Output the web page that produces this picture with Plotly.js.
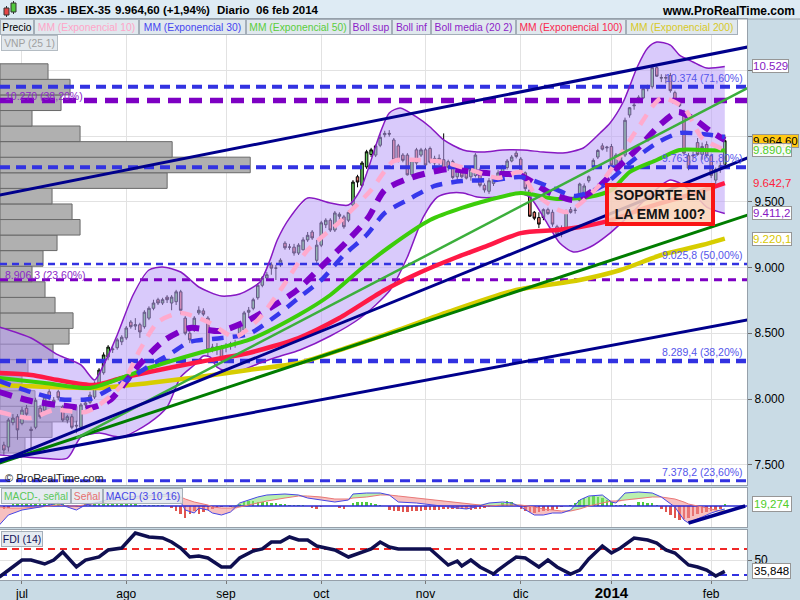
<!DOCTYPE html>
<html><head><meta charset="utf-8">
<script src="https://cdn.plot.ly/plotly-3.0.1.min.js"></script>
<style>html,body{margin:0;padding:0;background:#fff}#chart{width:800px;height:600px}</style>
</head><body><div id="chart"></div>
<script>
// ================= DATA =================
// bar index: 0 = 1 jul 2013 (trading days); first bar = -4 (25 jun 2013), last = 155 (6 feb 2014)
const firstBar = -4;
const months = ['jul','ago','sep','oct','nov','dic','2014','feb'];
const monthIdx = [0,23,45,66,89,110,130,152];
const priceTicks = [7500,8000,8500,9000,9500,10000,10500];
const priceTickText = ['7.500','8.000','8.500','9.000','9.500','',''];  // 10.000 / 10.500 are covered by value tags

const open = [7650,7635,7820,7865,7815,7930,7770,7785,7930,7915,
 8055,7975,8055,7940,7840,7865,7800,7785,7955,7975,
 8015,8105,8200,8320,8375,8390,8435,8465,8585,8555,
 8565,8550,8615,8690,8755,8730,8775,8730,8740,8815,
 8615,8500,8525,8655,8670,8615,8395,8395,8395,8395,
 8405,8425,8500,8525,8660,8690,8770,8865,8920,9020,
 8995,9020,9185,9155,9155,9110,9135,9210,9270,9055,
 9170,9325,9360,9285,9390,9385,9360,9475,9690,9625,
 9765,9860,9855,9930,10010,10020,9970,9925,9855,9855,
 9705,9895,9855,9895,9905,9795,9830,9820,9805,9805,
 9690,9740,9755,9690,9700,9740,9625,9580,9640,9690,
 9705,9760,9810,9870,9825,9720,9590,9420,9380,9380,
 9440,9420,9310,9255,9290,9440,9435,9510,9550,9660,
 9760,9840,9925,9910,9920,9780,9795,9855,10160,10230,
 10265,10290,10360,10375,10520,10440,10440,10460,10330,10275,
 10180,9850,9855,9950,9860,9935,9850,9665,9745,9785];
const high = [7675,7855,7885,7885,7940,7955,7790,8010,7955,8030,
 8075,8015,8070,7955,7880,7885,7835,7970,7990,8055,
 8135,8235,8355,8410,8410,8465,8485,8555,8600,8615,
 8580,8675,8705,8755,8770,8770,8790,8790,8830,8830,
 8630,8525,8630,8705,8690,8630,8420,8425,8410,8425,
 8435,8450,8565,8670,8700,8770,8880,8935,8965,9040,
 9020,9070,9200,9180,9180,9185,9230,9270,9285,9210,
 9355,9375,9375,9430,9420,9400,9435,9665,9705,9810,
 9895,9910,9935,10015,10040,10045,9985,9940,9870,9870,
 9830,9910,9910,9910,9920,9850,9860,10020,9820,9820,
 9760,9755,9770,9760,9870,9760,9640,9680,9700,9740,
 9780,9825,9855,9890,9840,9730,9600,9430,9420,9450,
 9455,9440,9325,9320,9440,9460,9455,9645,9640,9700,
 9830,9900,9945,9925,9940,9870,9850,10140,10220,10260,
 10310,10370,10390,10545,10545,10470,10470,10480,10345,10290,
 10200,9870,9880,9985,9950,9960,9865,9760,9800,10010];
const low = [7575,7600,7800,7690,7800,7860,7600,7770,7850,7900,
 7990,7960,7990,7825,7815,7770,7740,7770,7930,7960,
 8000,8090,8185,8295,8350,8375,8410,8450,8535,8525,
 8465,8535,8600,8675,8715,8715,8730,8675,8715,8645,
 8485,8425,8510,8640,8630,8320,8355,8335,8275,8355,
 8375,8390,8485,8510,8615,8675,8755,8850,8905,8945,
 8905,9005,9135,9135,9090,9095,9130,9195,9210,9035,
 9155,9300,9270,9270,9360,9295,9345,9460,9610,9610,
 9750,9840,9840,9915,9990,9995,9800,9800,9800,9700,
 9690,9780,9840,9770,9790,9760,9780,9730,9735,9670,
 9650,9680,9670,9660,9685,9610,9570,9560,9620,9670,
 9690,9745,9800,9830,9720,9580,9385,9360,9300,9360,
 9400,9310,9235,9230,9280,9410,9410,9495,9530,9645,
 9740,9825,9890,9880,9770,9760,9780,9840,10140,10200,
 10250,10280,10340,10360,10450,10410,10400,10330,10260,10220,
 9860,9740,9820,9850,9820,9840,9680,9630,9720,9770];
const close = [7612,7840,7855,7765,7915,7885,7760,7990,7865,8015,
 8010,7990,8010,7840,7865,7785,7795,7955,7970,8030,
 8120,8220,8335,8395,8380,8450,8470,8540,8550,8565,
 8510,8660,8690,8730,8730,8755,8755,8775,8815,8675,
 8500,8450,8615,8675,8645,8375,8390,8395,8295,8405,
 8420,8425,8550,8655,8675,8755,8865,8920,8945,8995,
 8995,9055,9150,9155,9110,9170,9210,9245,9225,9170,
 9340,9360,9285,9415,9405,9310,9420,9650,9650,9795,
 9880,9895,9925,9990,10020,10015,9820,9815,9815,9705,
 9815,9795,9895,9780,9800,9830,9810,9745,9760,9685,
 9740,9690,9680,9745,9855,9625,9590,9660,9690,9720,
 9770,9810,9840,9845,9740,9600,9390,9375,9330,9440,
 9410,9330,9255,9300,9425,9420,9435,9635,9620,9690,
 9815,9890,9900,9915,9780,9855,9840,10120,10215,10235,
 10295,10360,10375,10520,10455,10445,10445,10345,10275,10230,
 9870,9755,9850,9860,9920,9850,9700,9745,9775,9964.6];

// moving averages (sampled: bar index, value)
const ema10Idx = [-5,2,7,14,17,22,26,30,35,41,47,52,57,63,70,77,82,87,93,99,105,110,113,120,127,131,136,141,146,150,155];
const ema10Val = [7901,7856,7916,7901,7954,8106,8373,8586,8654,8586,8472,8601,8829,9133,9346,9589,9810,9818,9802,9742,9681,9726,9567,9422,9612,9802,10069,10289,10213,9985,9894];
const ema30Idx = [-5,2,8,15,19,24,28,33,37,44,50,56,61,66,71,76,80,85,91,97,104,110,116,122,128,134,140,145,150,155];
const ema30Val = [8137,8053,8000,8000,8068,8160,8251,8350,8434,8464,8494,8631,8768,8905,9095,9247,9414,9513,9620,9658,9665,9688,9620,9544,9620,9795,9947,10023,10015,9993];
const ema50Idx = [-5,5,15,22,28,39,50,61,68,75,81,90,97,103,110,118,125,130,134,140,145,150,155];
const ema50Val = [8160,8122,8084,8160,8236,8350,8449,8639,8791,8996,9156,9361,9453,9513,9567,9521,9536,9589,9726,9818,9894,9894,9890.6];
const ema100Idx = [-5,2,8,16,22,28,39,50,61,70,80,88,96,103,110,118,123,130,138,147,155];
const ema100Val = [8198,8183,8144,8106,8160,8205,8281,8350,8464,8616,8829,8966,9080,9171,9262,9285,9308,9361,9460,9551,9642.7];
const ema200Idx = [-5,6,17,28,39,50,61,72,83,94,109,123,132,141,150,155];
const ema200Val = [8106,8091,8084,8122,8167,8221,8274,8395,8525,8662,8829,8905,8981,9095,9171,9220.1];

// Bollinger (20, 2)
const bollUpIdx = [-5,2,8,13,16,18,21,24.5,28,31,35,39,44,48,52.5,54.7,56.3,59,63,68,72,74.6,79,81,83.4,87,90,93,97.3,101.7,106,110.5,115,119.3,123.8,127.5,129.7,132.6,135.7,138,140,143,145,148,151,155];
const bollUpVal = [8548,8464,8335,8259,8144,8259,8487,8791,8981,9004,8966,8852,8783,8799,8890,9057,9209,9376,9529,9491,9475,9589,10023,10175,10213,10145,10069,9970,9894,9878,9894,9894,9878,9871,9909,10023,10099,10259,10525,10669,10715,10692,10616,10563,10517,10529];
const bollLoIdx = [-5,4,10,13,17,22,28,32,35,38,40,41.5,43,46.5,52.5,56.3,61.3,68,74.6,81.2,85,88.5,91.6,94.4,97.3,100.4,104.8,109.2,112,115.8,118.6,121.6,125.3,129.7,134,138.5,143,147.4,151,155];
const bollLoVal = [7574,7551,7551,7711,7741,7711,7817,7939,8167,8259,8327,8319,8243,8198,8274,8319,8373,8479,8616,8829,9080,9384,9536,9567,9567,9536,9536,9567,9536,9338,9186,9118,9156,9262,9399,9551,9665,9589,9460,9411.2];
const bollMidIdx = [-5,2,8,15,19.4,26,31.5,37,43.7,49.2,54.7,60.7,65.7,71.3,76.3,80,85.6,94,99.5,105.4,109.8,116.5,122,127.1,132,136.3,140.7,144.7,148.5,151.8,155];
const bollMidVal = [8053,7985,7954,7932,7992,8266,8449,8540,8517,8586,8692,8829,8996,9186,9376,9589,9681,9749,9726,9711,9703,9567,9513,9612,9780,9924,10084,10183,10122,10038,9970];

// volume profile VNP (25 1): bin centre price, relative volume
const vnpPrice = [7648,7767,7885,8004,8122,8240,8359,8477,8596,8714,8832,8951,9069,9188,9306,9424,9543,9661,9780,9898,10017,10135,10253,10372,10490];
const vnpVol   = [25,52,77,35,22,28,53,69,73,55,45,32,43,57,80,72,52,167,250,172,80,32,61,70,48];
const vnpBin = 118.4;

// Fibonacci levels
const fibBlueVal  = [10374, 9763.3, 9025.8, 8289.4, 7378.2];
const fibBlueText = ['10.374 (71,60%)','9.763,3 (61,80%)','9.025,8 (50,00%)','8.289,4 (38,20%)','7.378,2 (23,60%)'];
const fibPurpleVal  = [10270, 8906.3];
const fibPurpleText = ['10.270 (38,20%)','8.906,3 (23,60%)'];

// trend lines (bar index, price)
const trendIdx = [-5, 160];
const trendNavyUp    = [9551, 10677];
const trendNavySteep = [7521, 9833];
const trendNavyLow   = [7536, 8601];
const trendGreenDark = [7513, 9399];
const trendGreenLightIdx = [12, 160];
const trendGreenLight    = [7703, 10365];

// right-axis value tags
const tagVal  = [10529, 9964.6, 9890.6, 9642.7, 9411.2, 9220.1];
const tagText = ['10.529','9.964,60','9.890,6','9.642,7','9.411,2','9.220,1'];

// MACD (3 10 16)
const macdIdx = [-5,-3,0,4,8,10,12,14,17,20,23,26,30,33,35,36,38,39,41,42,44,46,48,50,52,54,58,61,63,66,69,72,73,76,79,81,83,87,91,94,98,100,103,106,108,110,113,115,117,119,121,123,125,128,130,131,133,136,139,141,144,146,147,150,152,154,155];
const macdVal = [-152,-72,-32,-8,24,-8,-32,8,32,64,72,80,88,96,32,-32,-56,-16,-32,-56,-72,-48,24,48,72,88,96,88,64,48,32,48,96,104,104,88,32,24,8,-8,-24,-8,24,32,24,-8,-72,-72,-56,-56,-32,48,80,88,32,24,104,112,104,72,-8,-112,-136,-88,-56,-32,-24];
const sigVal  = [-8,-16,-16,-8,8,0,0,8,24,40,48,64,72,80,72,56,32,24,8,-8,-16,-16,-8,8,24,40,64,80,80,72,56,56,64,72,88,88,80,64,48,32,16,8,0,8,8,8,-8,-24,-32,-40,-40,-24,0,24,40,40,48,56,72,72,56,32,16,-8,-24,-40,-40];
const macdHist = [-24,-16,16,24,24,24,16,24,24,16,
 24,24,24,16,8,0,-8,0,16,24,
 24,24,32,24,24,24,24,24,16,16,
 8,8,8,8,8,8,0,-16,-40,-64,
 -96,-64,-40,-64,-48,-32,-24,-16,-8,0,
 -8,0,16,32,40,40,32,32,32,24,
 24,16,16,8,8,8,8,0,-16,-24,
 -8,0,0,0,-16,-24,0,24,32,32,
 32,24,16,8,0,-32,-40,-40,-48,-48,
 -40,-40,-40,-32,-32,-32,-32,-24,-24,-24,
 -24,-24,-24,-32,-24,-24,-16,-8,0,8,
 24,40,32,8,-24,-40,-48,-56,-48,-40,
 -40,-32,-24,-8,0,8,24,48,64,72,
 80,72,64,48,32,8,8,16,8,0,
 32,32,24,24,8,-24,-48,-72,-96,-112,
 -104,-96,-80,-64,-56,-48,-40,-32,-24,16];
const macdTrendIdx = [147, 159.5];
const macdTrendVal = [-136, 0];
const macdTag = '19,274';

// FDI (14)
const fdiIdx = [-5,-2,0,2,5,7,9,12,14,17,19,22,25,28,31,33,35,37,39,41,44,46,48,51,53,55,57,59,61,63,65,67,69,72,75,77,79,81,83,90,94,96,97,99,101,104,105,109,111,114,116,118,121,123,125,128,130,132,135,138,140,142,144,147,149,151,153,155];
const fdiVal = [28.75,41.25,50,50,45,50,60,41.25,50,53.75,62.5,65,83.75,78.75,77.5,72.5,65,53.75,55,52.5,41.25,41.25,52.5,61.25,63.75,72.5,72.5,78.75,75,75,67.5,65,62.5,53.75,60,63.75,72.5,66.25,63.75,63.75,43.75,48.75,42.5,50,41.25,32.5,37.5,53.75,52.5,41.25,50,41.25,32.5,37.5,51.25,67.5,58.75,65,77.5,75,71.25,62.5,58.75,43.75,41.25,37.5,30,35.848];
const fdiHighLevel = 63.75;
const fdiLowLevel = 31.25;
const fdiTag = '35,848';

// ================= CHART =================
const X0 = -4.85, X1 = 159.9;
const barsPerVolUnit = 1/4.53;
const idx = open.map((_, k) => firstBar + k);
const FONT = 'Liberation Sans, Arial, sans-serif';
const GRID = 'rgb(226,226,226)';
const FRAME = 'rgb(150,160,170)';
const traces = [];
const L = (x, y, color, width, dash, axes, shape) => ({type:'scatter', mode:'lines', x, y,
  line:{color, width, dash: dash || 'solid', shape: shape || 'linear', smoothing: 0.7},
  hoverinfo:'skip', xaxis: axes ? axes[0] : 'x', yaxis: axes ? axes[1] : 'y'});

// Bollinger band fill
traces.push({type:'scatter', mode:'lines', x: bollUpIdx.concat(bollLoIdx.slice().reverse()),
  y: bollUpVal.concat(bollLoVal.slice().reverse()), fill:'toself',
  fillcolor:'rgba(185,158,248,0.55)', line:{width:0}, hoverinfo:'skip', xaxis:'x', yaxis:'y'});
// volume profile
traces.push({type:'bar', orientation:'h', y: vnpPrice, x: vnpVol.map(v => v * barsPerVolUnit), base: X0,
  width: vnpBin, marker:{color:'rgb(176,176,176)', line:{color:'rgb(105,105,105)', width:1}},
  hoverinfo:'skip', xaxis:'x', yaxis:'y'});
// Fibonacci levels
const fibBlueW = [4, 4, 2.5, 4.5, 3];
fibBlueVal.forEach((v, k) => traces.push(L([X0, X1], [v, v], 'rgb(50,50,225)', fibBlueW[k], k === 2 ? '7px,5px' : '10px,6px')));
const fibPurpleW = [5.5, 3];
fibPurpleVal.forEach((v, k) => traces.push(L([X0, X1], [v, v], 'rgb(125,0,195)', fibPurpleW[k], k === 0 ? '13px,8px' : '8px,6px')));
// candles
traces.push({type:'candlestick', x: idx, open, high, low, close, whiskerwidth: 0,
  increasing:{fillcolor:'rgb(105,210,95)', line:{color:'#000', width:1}},
  decreasing:{fillcolor:'rgb(235,115,105)', line:{color:'#000', width:1}},
  hoverinfo:'skip', xaxis:'x', yaxis:'y'});
// Bollinger edges
traces.push(L(bollUpIdx, bollUpVal, 'rgb(135,25,195)', 1.5, null, null, 'spline'));
traces.push(L(bollLoIdx, bollLoVal, 'rgb(135,25,195)', 1.5, null, null, 'spline'));
// moving averages
traces.push(L(ema200Idx, ema200Val, 'rgb(215,205,0)', 4.5, null, null, 'spline'));
traces.push(L(ema100Idx, ema100Val, 'rgb(255,25,70)', 4.5, null, null, 'spline'));
traces.push(L(ema50Idx, ema50Val, 'rgb(60,205,10)', 4, null, null, 'spline'));
traces.push(L(bollMidIdx, bollMidVal, 'rgb(125,0,200)', 6, '13px,9px', null, 'spline'));
traces.push(L(ema30Idx, ema30Val, 'rgb(55,55,235)', 4.5, '12px,9px', null, 'spline'));
traces.push(L(ema10Idx, ema10Val, 'rgb(255,170,205)', 4.5, '12px,9px', null, 'spline'));
// trend lines
traces.push(L(trendIdx, trendGreenDark, 'rgb(0,125,0)', 3));
traces.push(L(trendGreenLightIdx, trendGreenLight, 'rgb(60,175,60)', 2.5));
traces.push(L(trendIdx, trendNavyUp, 'rgb(0,0,140)', 3));
traces.push(L(trendIdx, trendNavySteep, 'rgb(0,0,140)', 3));
traces.push(L(trendIdx, trendNavyLow, 'rgb(0,0,140)', 3));

// MACD panel
const M = ['x2','y2'];
const macdHi = macdVal.map((v, k) => Math.max(v, sigVal[k]));
const macdLo = macdVal.map((v, k) => Math.min(v, sigVal[k]));
traces.push(L(macdIdx, sigVal, 'rgba(0,0,0,0)', 0, null, M));
traces.push(Object.assign(L(macdIdx, macdHi, 'rgba(0,0,0,0)', 0, null, M), {fill:'tonexty', fillcolor:'rgba(130,225,110,0.55)'}));
traces.push(L(macdIdx, sigVal, 'rgba(0,0,0,0)', 0, null, M));
traces.push(Object.assign(L(macdIdx, macdLo, 'rgba(0,0,0,0)', 0, null, M), {fill:'tonexty', fillcolor:'rgba(240,140,140,0.55)'}));
traces.push({type:'bar', x: idx, y: macdHist, width: 0.55,
  marker:{color: macdHist.map(v => v >= 0 ? 'rgb(80,205,60)' : 'rgb(225,85,80)')},
  hoverinfo:'skip', xaxis:'x2', yaxis:'y2'});
traces.push(L([X0, X1], [0, 0], 'rgb(40,40,210)', 1.5, null, M));
traces.push(L(macdIdx, sigVal, 'rgb(235,120,120)', 1, null, M));
traces.push(L(macdIdx, macdVal, 'rgb(70,70,230)', 1, null, M));
traces.push(L(macdTrendIdx, macdTrendVal, 'rgb(0,0,140)', 3.5, null, M));

// FDI panel
const F = ['x3','y3'];
traces.push(L([X0, X1], [fdiHighLevel, fdiHighLevel], 'rgb(240,40,40)', 2, '7px,5px', F));
traces.push(L([X0, X1], [fdiLowLevel, fdiLowLevel], 'rgb(50,50,225)', 2, '7px,5px', F));
traces.push(L(fdiIdx, fdiVal, 'rgb(15,15,80)', 3.5, null, F));

// ---- layout helpers ----
const py = p => 1 - p / 600;   // pixel row -> paper
const px = p => p / 800;       // pixel col -> paper
const ann = [];
// header
ann.push({text:'<b>IBX35 - IBEX-35</b>', x:px(23), y:py(10), xanchor:'left', yanchor:'middle', font:{size:11.5}});
ann.push({text:'<b>9.964,60 (+1,94%)</b>', x:px(113), y:py(10), xanchor:'left', yanchor:'middle', font:{size:11.5}});
ann.push({text:'<b>Diario  06 feb 2014</b>', x:px(215), y:py(10), xanchor:'left', yanchor:'middle', font:{size:11.5}});
ann.push({text:'<b>www.ProRealTime.com</b>', x:px(797), y:py(11), xanchor:'right', yanchor:'middle', font:{size:12}});
// legend row
const legItems = [['Precio','#000',0,34],['MM (Exponencial 10)','rgb(255,165,200)',34,105],['MM (Exponencial 30)','rgb(70,70,240)',139,107],
  ['MM (Exponencial 50)','rgb(90,205,60)',246,104],['Boll sup','rgb(140,30,200)',350,42],['Boll inf','rgb(140,30,200)',392,39],
  ['Boll media (20 2)','rgb(140,30,200)',431,85],['MM (Exponencial 100)','rgb(250,40,80)',516,110],['MM (Exponencial 200)','rgb(215,200,40)',626,112]];
legItems.forEach(([t, c, x0, w]) => ann.push({text:t, x:px(x0), y:py(27.5), xanchor:'left', yanchor:'middle', width:w-4, height:12,
  font:{size:10.3, color:c}, bgcolor:'rgb(224,232,238)', bordercolor:'rgb(165,175,185)', borderwidth:1, borderpad:1}));
ann.push({text:'VNP (25 1)', x:px(1), y:py(43), xanchor:'left', yanchor:'middle', width:53, height:12,
  font:{size:10.3, color:'rgb(160,160,160)'}, bgcolor:'rgb(226,232,237)', bordercolor:'rgb(180,188,195)', borderwidth:1, borderpad:1});
ann.push({text:'© ProRealTime.com', x:px(3), y:py(478), xanchor:'left', yanchor:'middle', font:{size:11, color:'rgb(30,30,30)'}});
// fibonacci labels
fibBlueVal.forEach((v, k) => ann.push({text:fibBlueText[k], x:px(745), y:v, yref:'y', xanchor:'right', yanchor:'bottom', yshift:1,
  font:{size:10.5, color:'rgb(85,85,235)'}}));
fibPurpleVal.forEach((v, k) => ann.push({text:fibPurpleText[k], x:px(3), y:v, yref:'y', xanchor:'left', yanchor:'middle', yshift:5,
  font:{size:10.5, color:'rgb(140,40,200)'}}));
// right tags
const tagStyle = [
  {c:'rgb(135,25,195)', bg:'#fff'}, {c:'#000', bg:'rgb(255,200,20)'}, {c:'rgb(80,205,40)', bg:'rgba(255,255,255,0.85)'},
  {c:'rgb(255,30,60)', bg:'rgba(255,255,255,0)'}, {c:'rgb(135,25,195)', bg:'#fff'}, {c:'rgb(215,200,0)', bg:'#fff'}];
tagVal.forEach((v, k) => ann.push({text:tagText[k], x:px(752), y:v, yref:'y', xanchor:'left', yanchor:'middle',
  font:{size:11.5, color:tagStyle[k].c}, bgcolor:tagStyle[k].bg, bordercolor: k === 3 ? 'rgba(0,0,0,0)' : 'rgb(150,150,150)', borderwidth:1, borderpad:0}));
// support note
ann.push({text:'<b>SOPORTE EN<br>LA EMM 100?</b>', x:px(660), y:py(204.5), xanchor:'center', yanchor:'middle', width:102, height:35,
  font:{size:14, color:'rgb(20,20,20)'}, bgcolor:'rgba(250,212,185,0.85)', bordercolor:'rgb(250,20,20)', borderwidth:4, borderpad:0});
// MACD legends & tag
[['MACD-, señal','rgb(90,200,90)',1,70],['Señal','rgb(230,110,110)',71,32],['MACD (3 10 16)','rgb(70,70,230)',103,80]].forEach(([t,c,x0,w]) =>
  ann.push({text:t, x:px(x0), y:py(496), xanchor:'left', yanchor:'middle', width:w-4, height:12, font:{size:10.3, color:c},
  bgcolor:'rgba(226,232,238,0.85)', bordercolor:'rgb(165,175,185)', borderwidth:1, borderpad:1}));
ann.push({text:macdTag, x:px(752), y:py(504), xanchor:'left', yanchor:'middle', font:{size:11.5, color:'rgb(80,205,40)'},
  bgcolor:'#fff', bordercolor:'rgb(150,150,150)', borderwidth:1, borderpad:1});
// FDI legend & tag
ann.push({text:'FDI (14)', x:px(1), y:py(539), xanchor:'left', yanchor:'middle', width:38, height:12, font:{size:10.5, color:'rgb(20,20,90)'},
  bgcolor:'rgba(226,232,238,0.85)', bordercolor:'rgb(165,175,185)', borderwidth:1, borderpad:1});
ann.push({text:fdiTag, x:px(752), y:fdiVal[fdiVal.length-1], yref:'y3', xanchor:'left', yanchor:'middle', font:{size:11.5, color:'#000'},
  bgcolor:'#fff', bordercolor:'rgb(150,150,150)', borderwidth:1, borderpad:1});
ann.forEach(a => { a.showarrow = false; if (!a.xref) a.xref = 'paper'; if (!a.yref) a.yref = 'paper'; a.font.family = FONT; });

const shapes = [
  {type:'rect', xref:'paper', yref:'paper', x0:0, x1:1, y0:py(19), y1:1, fillcolor:'rgb(222,235,244)', line:{width:0}, layer:'below'},
  {type:'line', xref:'paper', yref:'paper', x0:0, x1:1, y0:py(19), y1:py(19), line:{color:FRAME, width:1}},
  // header candle icon
  {type:'line', xref:'paper', yref:'paper', x0:px(6.5), x1:px(6.5), y0:py(17), y1:py(6), line:{color:'#333', width:1}},
  {type:'rect', xref:'paper', yref:'paper', x0:px(4), x1:px(9), y0:py(15), y1:py(8), fillcolor:'rgb(230,70,70)', line:{color:'#333', width:1}},
  {type:'line', xref:'paper', yref:'paper', x0:px(13.5), x1:px(13.5), y0:py(14), y1:py(1), line:{color:'#333', width:1}},
  {type:'rect', xref:'paper', yref:'paper', x0:px(11), x1:px(16), y0:py(12), y1:py(3), fillcolor:'rgb(80,200,60)', line:{color:'#333', width:1}}
];

const xBase = {range:[X0, X1], domain:[0, 0.93375], tickvals: monthIdx, showgrid:true, gridcolor:GRID, zeroline:false,
  showline:true, mirror:true, linecolor:FRAME, fixedrange:true};
const layout = {
  width:800, height:600, margin:{l:0, r:0, t:0, b:0, pad:0},
  paper_bgcolor:'rgb(201,219,229)', plot_bgcolor:'#fff', showlegend:false, hovermode:false,
  separators:',.', bargap:0, boxgap:0.2, font:{family:FONT, size:12, color:'#000'},
  xaxis: Object.assign({}, xBase, {anchor:'y', showticklabels:false, ticks:'', rangeslider:{visible:false}}),
  xaxis2: Object.assign({}, xBase, {anchor:'y2', showticklabels:false, ticks:''}),
  xaxis3: Object.assign({}, xBase, {anchor:'y3', ticks:'outside', ticklen:3, tickcolor:'rgb(120,120,120)',
    ticktext: months.map(m => m === '2014' ? '<b><span style="font-size:15px">2014</span></b>' : m), tickfont:{size:12, color:'#000'}}),
  yaxis: {domain:[py(485), py(19)], range:[7346, 10890], side:'right', tickvals:priceTicks, ticktext:priceTickText,
    ticks:'outside', ticklen:4, tickcolor:'rgb(110,110,110)', showgrid:true, gridcolor:GRID, zeroline:false,
    showline:true, mirror:true, linecolor:FRAME, tickfont:{size:12}, fixedrange:true, anchor:'x'},
  yaxis2: {domain:[py(527), py(488)], range:[-168, 144], side:'right', showticklabels:false, ticks:'', showgrid:false,
    zeroline:false, showline:true, mirror:true, linecolor:FRAME, fixedrange:true, anchor:'x2'},
  yaxis3: {domain:[py(580), py(530)], range:[25, 87.5], side:'right', tickvals:[50], ticktext:['50'], ticks:'outside', ticklen:4,
    tickcolor:'rgb(110,110,110)', showgrid:true, gridcolor:GRID, zeroline:false, showline:true, mirror:true, linecolor:FRAME,
    tickfont:{size:12}, fixedrange:true, anchor:'x3'},
  annotations: ann, shapes: shapes
};
Plotly.newPlot('chart', traces, layout, {staticPlot:true, displayModeBar:false});
</script>
</body></html>
